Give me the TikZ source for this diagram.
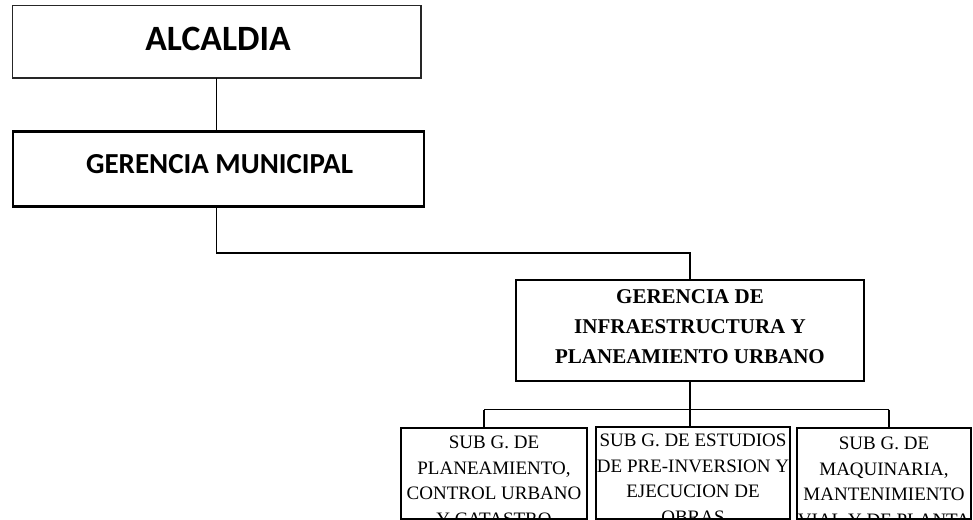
\documentclass[tikz,border=0pt]{standalone}
\usepackage{fontspec}
\setmainfont{Liberation Serif}
\newfontfamily\calib{Carlito}
\begin{document}
\begin{tikzpicture}[x=1pt,y=-1pt,
  thinbox/.style={draw=black!85,line width=1.1pt,inner sep=0pt,outer sep=0pt,anchor=north west},
  thickbox/.style={draw=black,line width=2.3pt,inner sep=0pt,outer sep=0pt,anchor=north west},
  subbox/.style={draw=black,line width=1.1pt,inner sep=0pt,outer sep=0pt,anchor=north west},
  conn/.style={draw=black,line width=1.3pt},
  txt/.style={inner sep=0pt,outer sep=0pt,align=center},
  subtxt/.style={txt,anchor=north,font={\fontsize{19}{25.5}\selectfont}}]
\useasboundingbox (0,0) rectangle (973,519);
\fill[white] (0,0) rectangle (973,519);
% boxes
\node[thinbox,minimum width=408.5pt,minimum height=72.5pt] (alc) at (12.5,5.5) {};
\node[thickbox,minimum width=411pt,minimum height=75pt] (gm) at (13,131.5) {};
\node[thickbox,minimum width=348pt,minimum height=101pt] (gipu) at (516,280) {};
\node[subbox,minimum width=186pt,minimum height=91pt] (s1) at (401,428) {};
\node[subbox,minimum width=194pt,minimum height=92pt] (s2) at (596,427) {};
\node[subbox,minimum width=174pt,minimum height=91pt] (s3) at (797,428) {};
% texts
\node[txt,anchor=base,font={\calib\bfseries\fontsize{35.6}{40}\selectfont}] (talc) at (218,51) {ALCALDIA};
\node[txt,anchor=base,font={\calib\bfseries\fontsize{29}{32}\selectfont}] (tgm) at (219.5,173.3) {GERENCIA MUNICIPAL};
\node[txt,anchor=north,font={\bfseries\fontsize{21}{30}\selectfont}] (tgipu) at (690,290) {GERENCIA DE\\INFRAESTRUCTURA Y\\PLANEAMIENTO URBANO};
\begin{scope}
\clip (s1.north west) rectangle (s1.south east);
\node[subtxt] (ts1) at (494,436) {SUB G. DE\\PLANEAMIENTO,\\CONTROL URBANO\\Y CATASTRO};
\end{scope}
\begin{scope}
\clip (s2.north west) rectangle (s2.south east);
\node[subtxt] (ts2) at (693,434) {SUB G. DE ESTUDIOS\\DE PRE-INVERSION Y\\EJECUCION DE\\OBRAS};
\end{scope}
\begin{scope}
\clip (s3.north west) rectangle (s3.south east);
\node[subtxt] (ts3) at (884,437) {SUB G. DE\\MAQUINARIA,\\MANTENIMIENTO\\VIAL Y DE PLANTA};
\end{scope}
% connectors
\coordinate (b1) at (484,409.5);
\coordinate (b3) at (889,409.5);
\coordinate (gmdrop) at (216.5,206.5);
\draw[conn] (alc.south) -- (alc.south |- gm.north);
\draw[conn] (gmdrop) -- ++(0,46.5) -| (gipu.north);
\draw[conn] (b1) -- (b3);
\draw[conn] (gipu.south) -- (gipu.south |- b1);
\draw[conn] (b1) -- (b1 |- s1.north);
\draw[conn] (gipu.south |- b1) -- (gipu.south |- s2.north);
\draw[conn] (b3) -- (b3 |- s3.north);
\end{tikzpicture}
\end{document}
